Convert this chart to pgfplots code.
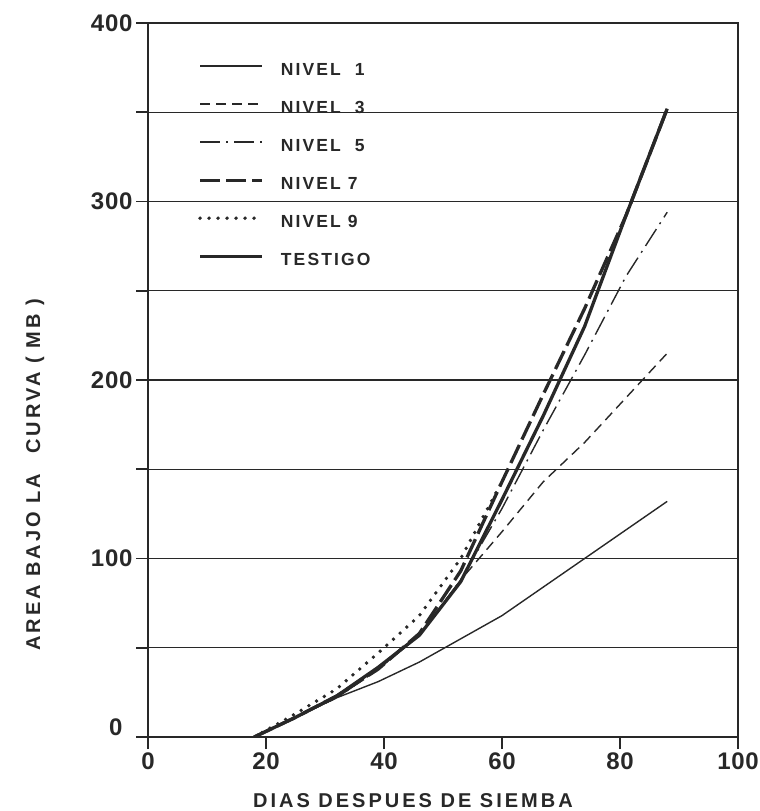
\documentclass[border=0pt]{standalone}
\usepackage{fontspec}
\setmainfont{Liberation Sans}[LetterSpace=12]
\newfontfamily\tickfont{Liberation Sans}[LetterSpace=3]
\newfontfamily\labfont{Liberation Sans}[LetterSpace=15]
\usepackage{pgfplots}
\usepackage{pgfplotstable}
\pgfplotsset{compat=1.18}
\definecolor{ink}{RGB}{40,40,40}

\pgfplotstableread{
x  n1  n3  n5  n7  n9  t
18 0   0   0   0   0   0
25 11  11  11  11  13  11
32 22  22  22  23  27  23
39 31  38  38  38  47  39
46 42  57  57  58  68  57
53 55  88  88  93  100 87
60 68  115 128 143 143 133
67 84  143 172 192 nan 180
74 100 165 214 240 nan 230
81 116 190 258 292 nan 292
88 132 215 294 352 nan 352
}\data

\begin{document}
\begin{tikzpicture}
\begin{axis}[
  scale only axis, width=590pt, height=714pt,
  xmin=0, xmax=100, ymin=0, ymax=400,
  axis line style={ink, line width=1.6pt},
  xtick={0,20,...,100}, ytick={0,100,...,400},
  yticklabels={\raisebox{20pt}{0\hspace{10pt}},100,200,300,400},
  minor ytick={50,150,250,350},
  ymajorgrids, yminorgrids,
  grid style={ink, line width=1.1pt},
  minor grid style={ink, line width=1.1pt},
  tick align=outside, tick pos=left,
  major tick length=12pt, minor tick length=12pt,
  tick style={ink, line width=1.6pt},
  /pgf/number format/assume math mode=true,
  tick label style={font=\tickfont\bfseries\fontsize{24}{24}\selectfont, text=ink},
  xlabel={DIAS DESPUES DE SIEMBA},
  ylabel={AREA BAJO LA\quad CURVA ( MB )},
  xlabel style={at={(axis description cs:0.449,-0.0896)}, anchor=center, font=\labfont\bfseries\fontsize{20}{20}\selectfont, text=ink},
  ylabel style={at={(axis description cs:-0.1915,0.367)}, anchor=center, font=\labfont\bfseries\fontsize{20}{20}\selectfont, text=ink},
  legend style={at={(rel axis cs:0.0847,0.944)}, anchor=north west, draw=none, fill=none,
    font=\bfseries\fontsize{17.5}{17.5}\selectfont, text=ink, row sep=26pt, inner sep=0pt,
    nodes={inner sep=0pt, text height=12pt, text depth=0pt}},
  legend cell align=left,
  legend image code/.code={\draw[#1] (0pt,3pt) -- (62pt,3pt); \path (79pt,3pt);},
]
\addplot[ink, line width=1.4pt, line join=round] table[x=x,y=n1]{\data};
\addlegendentry{NIVEL\ \ 1}
\addplot[ink, line width=1.4pt, line join=round, dash pattern=on 10pt off 6pt] table[x=x,y=n3]{\data};
\addlegendentry{NIVEL\ \ 3}
\addplot[ink, line width=1.4pt, line join=round, dash pattern=on 20pt off 6pt on 2pt off 6pt] table[x=x,y=n5]{\data};
\addlegendentry{NIVEL\ \ 5}
\addplot[ink, line width=3.3pt, line join=round, dash pattern=on 20pt off 6pt] table[x=x,y=n7]{\data};
\addlegendentry{NIVEL 7}
\addplot[ink, line width=3.8pt, line cap=round, dash pattern=on 0pt off 9pt] table[x=x,y=n9]{\data};
\addlegendentry{NIVEL 9}
\addplot[ink, line width=3.3pt, line join=round] table[x=x,y=t]{\data};
\addlegendentry{TESTIGO}
\coordinate (BL) at (rel axis cs:0,0);
\coordinate (TR) at (rel axis cs:1,1);
\end{axis}
\pgfresetboundingbox
\path[use as bounding box] ([shift={(-148pt,-74pt)}]BL) rectangle ([shift={(22pt,23pt)}]TR);
\end{tikzpicture}
\end{document}
